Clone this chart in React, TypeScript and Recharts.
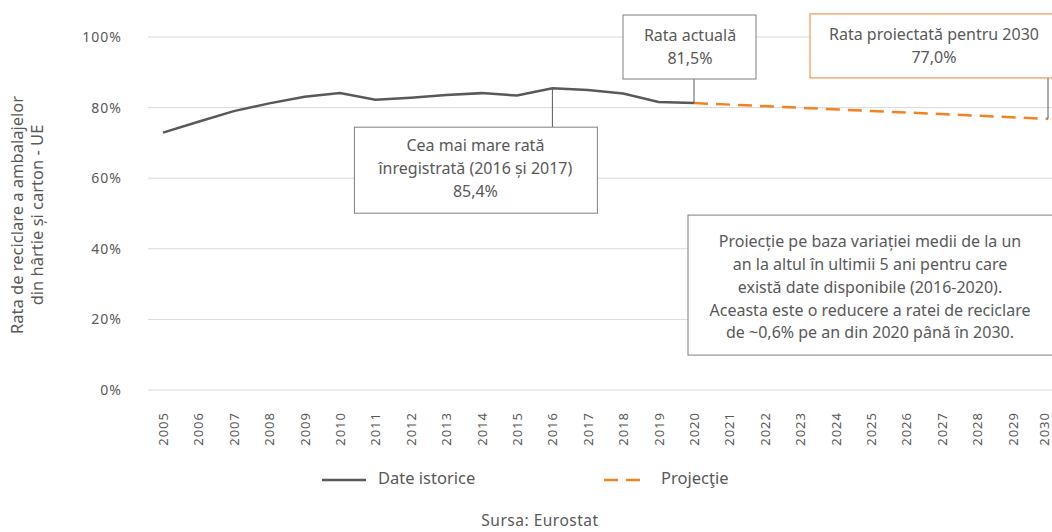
import { LineChart, Line, XAxis, YAxis, CartesianGrid, ReferenceDot } from 'recharts';

const years = ['2005', '2006', '2007', '2008', '2009', '2010', '2011', '2012', '2013', '2014', '2015', '2016', '2017', '2018', '2019', '2020', '2021', '2022', '2023', '2024', '2025', '2026', '2027', '2028', '2029', '2030'];
const historical = [72.9, 76.0, 79.0, 81.2, 83.1, 84.1, 82.2, 82.8, 83.6, 84.1, 83.4, 85.5, 85.0, 84.0, 81.6, 81.3, null, null, null, null, null, null, null, null, null, null];
const projection = [null, null, null, null, null, null, null, null, null, null, null, null, null, null, null, 81.3, null, null, null, null, null, null, null, null, null, 76.8];
const yTicks = [0, 20, 40, 60, 80, 100];

const data = years.map((y, i) => ({ year: y, hist: historical[i], proj: projection[i] }));

const FONT = '"Noto Sans", sans-serif';
const TXT = '#595959';
const GREY = '#595959';
const ORANGE = '#f5821f';

const XTick = (props: any) => {
  const { x, y, payload } = props;
  // keep the last label inside the picture
  const tx = Math.min(x, 1044);
  return (
    <text x={tx} y={y + 14} transform={`rotate(-90, ${tx}, ${y + 14})`} textAnchor="end" dominantBaseline="central"
      fill={TXT} fontSize={13} fontFamily={FONT} letterSpacing={1}>
      {payload.value}
    </text>
  );
};

const YLabel = () => {
  const cy = 215;
  return (
    <text transform={`rotate(-90, 0, ${cy})`} fill={TXT} fontSize={16.5} fontFamily={FONT} textAnchor="middle">
      <tspan x={0} y={cy + 23}>Rata de reciclare a ambalajelor</tspan>
      <tspan x={0} y={cy + 43}>din hârtie și carton - UE</tspan>
    </text>
  );
};

const boxText = { fill: TXT, fontSize: 16, fontFamily: FONT, textAnchor: 'middle' as const, dominantBaseline: 'middle' as const };

const MaxBox = ({ cx, cy }: any) => (
  <g>
    <line x1={cx} y1={cy} x2={cx} y2={cy + 39} stroke={GREY} strokeWidth={1} />
    <rect x={cx - 198} y={cy + 39} width={243} height={86} fill="#fff" stroke="#7f7f7f" strokeWidth={1} />
    <text {...boxText} x={cx - 77} y={cy + 59}>Cea mai mare rată</text>
    <text {...boxText} x={cx - 77} y={cy + 82}>înregistrată (2016 și 2017)</text>
    <text {...boxText} x={cx - 77} y={cy + 105}>85,4%</text>
  </g>
);

const CurrentBox = ({ cx, cy }: any) => (
  <g>
    <line x1={cx} y1={cy} x2={cx} y2={cy - 24} stroke={GREY} strokeWidth={1} />
    <rect x={cx - 71} y={cy - 88} width={133} height={64} fill="#fff" stroke="#7f7f7f" strokeWidth={1} />
    <text {...boxText} x={cx - 4} y={cy - 66}>Rata actuală</text>
    <text {...boxText} x={cx - 4} y={cy - 43}>81,5%</text>
  </g>
);

const ProjBox = ({ cx, cy }: any) => (
  <g>
    <line x1={cx} y1={cy} x2={cx} y2={cy - 41} stroke={GREY} strokeWidth={1} />
    <rect x={cx - 238} y={cy - 105} width={250} height={64} fill="#fff" stroke={ORANGE} strokeWidth={1} />
    <text {...boxText} x={cx - 114} y={cy - 83}>Rata proiectată pentru 2030</text>
    <text {...boxText} x={cx - 114} y={cy - 60}>77,0%</text>
  </g>
);

const NoteBox = ({ cx, cy }: any) => (
  <g>
    <rect x={cx - 183} y={cy - 69} width={380} height={140} fill="#fff" stroke="#7f7f7f" strokeWidth={1} />
    <text {...boxText} x={cx - 1} y={cy - 41}>Proiecție pe baza variației medii de la un</text>
    <text {...boxText} x={cx - 1} y={cy - 18}>an la altul în ultimii 5 ani pentru care</text>
    <text {...boxText} x={cx - 1} y={cy + 5}>există date disponibile (2016-2020).</text>
    <text {...boxText} x={cx - 1} y={cy + 28}>Aceasta este o reducere a ratei de reciclare</text>
    <text {...boxText} x={cx - 1} y={cy + 50}>de ~0,6% pe an din 2020 până în 2030.</text>
  </g>
);

const LegendBlock = () => (
  <div style={{ position: 'absolute', left: 0, top: 467, width: 1052, fontFamily: FONT, color: TXT, fontSize: 16.5 }}>
    <div style={{ position: 'relative', height: 26 }}>
      <svg width={50} height={10} style={{ position: 'absolute', left: 320, top: 8 }}>
        <line x1={2} y1={5} x2={46} y2={5} stroke={GREY} strokeWidth={2.5} />
      </svg>
      <span style={{ position: 'absolute', left: 378, top: -1 }}>Date istorice</span>
      <svg width={50} height={10} style={{ position: 'absolute', left: 602, top: 8 }}>
        <line x1={2} y1={5} x2={42} y2={5} stroke={ORANGE} strokeWidth={2.5} strokeDasharray="14 8" />
      </svg>
      <span style={{ position: 'absolute', left: 661, top: -1 }}>Projecţie</span>
    </div>
    <div style={{ position: 'absolute', left: 0, top: 42, width: 1080, textAlign: 'center', letterSpacing: 0.5, fontSize: 15.5 }}>Sursa: Eurostat</div>
  </div>
);

export default function App() {
  return (
    <div style={{ position: 'absolute', left: 0, top: 0, width: 1052, height: 532, background: '#fff', overflow: 'hidden' }}>
      <LineChart width={1052} height={532} data={data} margin={{ top: 37, right: 0, bottom: 82, left: 0 }}>
        <CartesianGrid horizontal vertical={false} stroke="#d9d9d9" />
        <XAxis dataKey="year" interval={0} axisLine={false} tickLine={false} tick={<XTick />} padding={{ left: 15, right: 4 }} height={60} />
        <YAxis width={148} domain={[0, 100]} ticks={yTicks} axisLine={false} tickLine={false} tickSize={0} tickMargin={26}
          tickFormatter={(v: number) => `${v}%`}
          tick={{ fill: TXT, fontSize: 14, fontFamily: FONT, letterSpacing: 1 }}
          label={<YLabel />} />
        <Line dataKey="hist" stroke={GREY} strokeWidth={2.5} dot={false} isAnimationActive={false} />
        <Line dataKey="proj" stroke={ORANGE} strokeWidth={2.5} strokeDasharray="14 8" dot={false} connectNulls isAnimationActive={false} />
        <ReferenceDot x="2016" y={85.5} shape={<MaxBox />} />
        <ReferenceDot x="2020" y={81.3} shape={<CurrentBox />} />
        <ReferenceDot x="2030" y={76.8} shape={<ProjBox />} />
        <ReferenceDot x="2025" y={30} shape={<NoteBox />} />
      </LineChart>
      <LegendBlock />
    </div>
  );
}
